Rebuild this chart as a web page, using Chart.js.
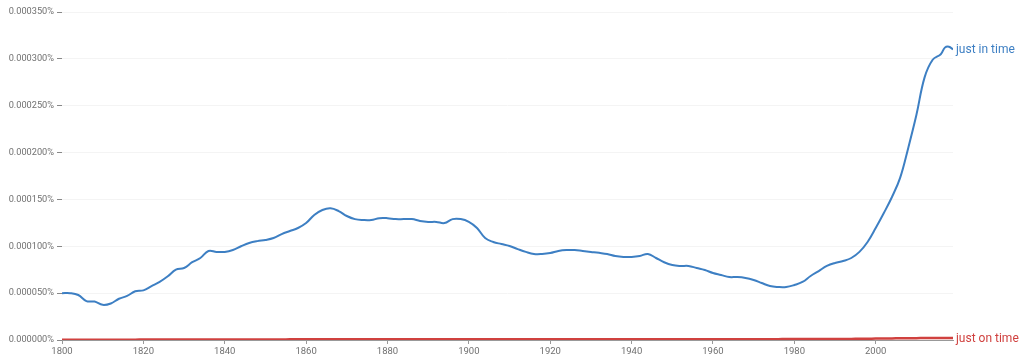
<!DOCTYPE html>
<html>
<head>
<meta charset="utf-8">
<script src="https://cdn.jsdelivr.net/npm/chart.js@4"></script>
<style>
html,body{margin:0;padding:0;background:#fff;}
#wrap{width:1024px;height:359px;position:relative;}
</style>
</head>
<body>
<div id="wrap"><canvas id="c" width="1024" height="359"></canvas></div>
<script>
const years = [1800,1802,1804,1806,1808,1810,1812,1814,1816,1818,1820,1822,1824,1826,1828,1830,1832,1834,1836,1838,1840,1842,1844,1846,1848,1850,1852,1854,1856,1858,1860,1862,1864,1866,1868,1870,1872,1874,1876,1878,1880,1882,1884,1886,1888,1890,1892,1894,1896,1898,1900,1902,1904,1906,1908,1910,1912,1914,1916,1918,1920,1922,1924,1926,1928,1930,1932,1934,1936,1938,1940,1942,1944,1946,1948,1950,1952,1954,1956,1958,1960,1962,1964,1966,1968,1970,1972,1974,1976,1978,1980,1982,1984,1986,1988,1990,1992,1994,1996,1998,2000,2002,2004,2006,2008,2010,2012,2014,2016,2017,2018,2019];
const justInTime = [0.0000500,0.0000500,0.0000480,0.0000415,0.0000410,0.0000375,0.0000390,0.0000440,0.0000470,0.0000520,0.0000530,0.0000575,0.0000620,0.0000680,0.0000750,0.0000768,0.0000830,0.0000875,0.0000950,0.0000940,0.0000940,0.0000960,0.0001000,0.0001035,0.0001055,0.0001067,0.0001088,0.0001130,0.0001163,0.0001195,0.0001248,0.0001334,0.0001387,0.0001405,0.0001376,0.0001323,0.0001290,0.0001280,0.0001280,0.0001300,0.0001300,0.0001290,0.0001290,0.0001290,0.0001270,0.0001260,0.0001260,0.0001248,0.0001290,0.0001290,0.0001260,0.0001195,0.0001088,0.0001046,0.0001024,0.0001003,0.0000970,0.0000940,0.0000918,0.0000918,0.0000928,0.0000950,0.0000960,0.0000960,0.0000950,0.0000940,0.0000930,0.0000918,0.0000896,0.0000886,0.0000886,0.0000896,0.0000918,0.0000875,0.0000830,0.0000800,0.0000790,0.0000790,0.0000768,0.0000747,0.0000715,0.0000694,0.0000672,0.0000672,0.0000662,0.0000640,0.0000608,0.0000576,0.0000566,0.0000566,0.0000587,0.0000619,0.0000683,0.0000736,0.0000790,0.0000822,0.0000843,0.0000875,0.0000940,0.0001046,0.0001195,0.0001355,0.0001526,0.0001730,0.0002050,0.0002400,0.0002800,0.0002990,0.0003050,0.0003120,0.0003130,0.0003100];
const justOnTime = [0.0000004,0.0000004,0.0000004,0.0000004,0.0000004,0.0000004,0.0000004,0.0000004,0.0000004,0.0000004,0.0000005,0.0000005,0.0000005,0.0000005,0.0000005,0.0000005,0.0000005,0.0000005,0.0000006,0.0000006,0.0000006,0.0000006,0.0000006,0.0000006,0.0000006,0.0000006,0.0000006,0.0000006,0.0000007,0.0000007,0.0000007,0.0000007,0.0000007,0.0000007,0.0000007,0.0000007,0.0000007,0.0000007,0.0000007,0.0000007,0.0000008,0.0000008,0.0000008,0.0000008,0.0000008,0.0000008,0.0000008,0.0000008,0.0000008,0.0000008,0.0000009,0.0000009,0.0000009,0.0000009,0.0000009,0.0000009,0.0000009,0.0000009,0.0000009,0.0000009,0.0000009,0.0000009,0.0000009,0.0000009,0.0000009,0.0000009,0.0000009,0.0000009,0.0000009,0.0000009,0.0000009,0.0000009,0.0000009,0.0000009,0.0000009,0.0000009,0.0000009,0.0000009,0.0000009,0.0000009,0.0000009,0.0000009,0.0000009,0.0000009,0.0000009,0.0000009,0.0000009,0.0000009,0.0000009,0.0000010,0.0000010,0.0000010,0.0000010,0.0000011,0.0000011,0.0000011,0.0000012,0.0000012,0.0000013,0.0000014,0.0000015,0.0000016,0.0000017,0.0000018,0.0000019,0.0000020,0.0000021,0.0000021,0.0000021,0.0000021,0.0000021,0.0000021];
const xTicks = [1800,1820,1840,1860,1880,1900,1920,1940,1960,1980,2000];
const yTicks = [0,0.00005,0.0001,0.00015,0.0002,0.00025,0.0003,0.00035];
const seriesNames = ['just in time','just on time'];
const seriesColors = ['#3d7fc3','#d0413f'];

const endLabels = {
  id:'endLabels',
  afterDatasetsDraw(chart){
    const ctx = chart.ctx;
    ctx.save();
    ctx.font = '12px Roboto';
    ctx.textBaseline = 'middle';
    ctx.textAlign = 'left';
    chart.data.datasets.forEach((ds,i)=>{
      const meta = chart.getDatasetMeta(i);
      const p = meta.data[meta.data.length-1];
      ctx.fillStyle = ds.borderColor;
      ctx.fillText(ds.label, p.x+3, p.y+1);
    });
    ctx.restore();
  }
};

new Chart(document.getElementById('c'),{
  type:'line',
  data:{
    datasets:[
      {label:seriesNames[0],data:years.map((y,i)=>({x:y,y:justInTime[i]})),borderColor:seriesColors[0],borderWidth:2,pointRadius:0,tension:0.4,fill:false},
      {label:seriesNames[1],data:years.map((y,i)=>({x:y,y:justOnTime[i]})),borderColor:seriesColors[1],borderWidth:2.5,pointRadius:0,tension:0.4,fill:false}
    ]
  },
  plugins:[endLabels],
  options:{
    responsive:false,
    animation:false,
    events:[],
    layout:{padding:{left:0,right:71,top:12,bottom:0}},
    plugins:{legend:{display:false},tooltip:{enabled:false}},
    scales:{
      x:{
        type:'linear',min:1800,max:2019,
        afterBuildTicks(s){s.ticks = xTicks.map(v=>({value:v}));},
        grid:{drawOnChartArea:false,color:'#999',tickLength:4,tickColor:'#999'},
        border:{display:true,color:'#999'},
        ticks:{color:'#707070',font:{family:'Roboto',size:9.5},padding:2,maxRotation:0,callback:v=>String(v)},
        afterFit(s){s.height=19;}
      },
      y:{
        min:0,max:0.00035,
        afterBuildTicks(s){s.ticks = yTicks.map(v=>({value:v}));},
        grid:{color:'#f4f4f4',tickColor:'#888',tickLength:5},
        border:{display:false},
        ticks:{color:'#707070',font:{family:'Roboto',size:9.2},padding:3,callback:v=>v.toFixed(6)+'%'},
        afterFit(s){s.width=62;}
      }
    }
  }
});
</script>
</body>
</html>
